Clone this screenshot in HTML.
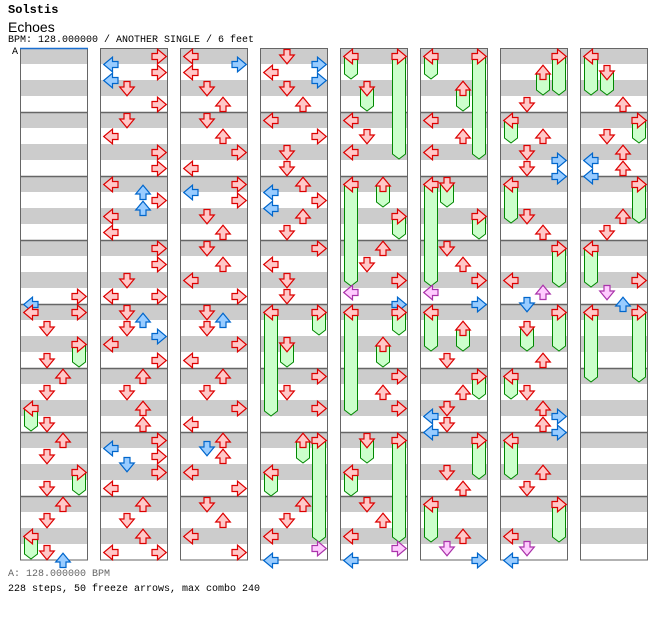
<!DOCTYPE html>
<html><head><meta charset="utf-8">
<style>
html,body{margin:0;padding:0;background:#fff;width:672px;height:620px;overflow:hidden}
.t{position:absolute;font-family:"Liberation Mono",monospace;white-space:pre;color:#000}
</style></head>
<body>
<div class="t" style="left:8px;top:3px;font-size:12px;font-weight:bold">Solstis</div>
<div class="t" style="left:8px;top:19px;font-family:'Liberation Sans',sans-serif;font-size:14px">Echoes</div>
<div class="t" style="left:8px;top:35px;font-size:10px">BPM: 128.000000 / ANOTHER SINGLE / 6 feet</div>
<div class="t" style="left:12px;top:47px;font-size:10px">A</div>
<div class="t" style="left:8px;top:569px;font-size:10px;color:#666">A: 128.000000 BPM</div>
<div class="t" style="left:8px;top:584px;font-size:10px">228 steps, 50 freeze arrows, max combo 240</div>
<svg id="s" width="672" height="620" style="position:absolute;left:0;top:0" xmlns="http://www.w3.org/2000/svg"></svg>
<script>
const L=0,D=1,U=2,R=3;
const cols=[
[[R,240,'q'],[L,248,'e'],[L,256,'q'],[R,256,'q'],[D,272,'q'],[R,288,'q',319],[D,304,'q'],[U,320,'q'],[D,336,'q'],[L,352,'q',383],[D,368,'q'],[U,384,'q'],[D,400,'q'],[R,416,'q',447],[D,432,'q'],[U,448,'q'],[D,464,'q'],[L,480,'q',511],[D,496,'q'],[U,504,'e']],
[[R,0,'q'],[L,8,'e'],[R,16,'q'],[L,24,'e'],[D,32,'q'],[R,48,'q'],[D,64,'q'],[L,80,'q'],[R,96,'q'],[R,112,'q'],[L,128,'q'],[U,136,'e'],[R,144,'q'],[U,152,'e'],[L,160,'q'],[L,176,'q'],[R,192,'q'],[R,208,'q'],[D,224,'q'],[L,240,'q'],[R,240,'q'],[D,256,'q'],[U,264,'e'],[D,272,'q'],[R,280,'e'],[L,288,'q'],[R,304,'q'],[U,320,'q'],[D,336,'q'],[U,352,'q'],[U,368,'q'],[R,384,'q'],[L,392,'e'],[R,400,'q'],[D,408,'e'],[R,416,'q'],[L,432,'q'],[U,448,'q'],[D,464,'q'],[U,480,'q'],[L,496,'q'],[R,496,'q']],
[[L,0,'q'],[R,8,'e'],[L,16,'q'],[D,32,'q'],[U,48,'q'],[D,64,'q'],[U,80,'q'],[R,96,'q'],[L,112,'q'],[R,128,'q'],[L,136,'e'],[R,144,'q'],[D,160,'q'],[U,176,'q'],[D,192,'q'],[U,208,'q'],[L,224,'q'],[R,240,'q'],[D,256,'q'],[U,264,'e'],[D,272,'q'],[R,288,'q'],[L,304,'q'],[U,320,'q'],[D,336,'q'],[R,352,'q'],[L,368,'q'],[U,384,'q'],[D,392,'e'],[U,400,'q'],[L,416,'q'],[R,432,'q'],[D,448,'q'],[U,464,'q'],[L,480,'q'],[R,496,'q']],
[[D,0,'q'],[R,8,'e'],[L,16,'q'],[R,24,'e'],[D,32,'q'],[U,48,'q'],[L,64,'q'],[R,80,'q'],[D,96,'q'],[D,112,'q'],[U,128,'q'],[L,136,'e'],[R,144,'q'],[L,152,'e'],[U,160,'q'],[D,176,'q'],[R,192,'q'],[L,208,'q'],[D,224,'q'],[D,240,'q'],[L,256,'q',368],[R,256,'q',287],[D,288,'q',319],[R,320,'q'],[D,336,'q'],[R,352,'q'],[U,384,'q',415],[R,384,'q',494],[L,416,'q',448],[U,448,'q'],[D,464,'q'],[L,480,'q'],[R,492,'s'],[L,504,'e']],
[[L,0,'q',31],[R,0,'q',111],[D,32,'q',63],[L,64,'q'],[D,80,'q'],[L,96,'q'],[L,128,'q',238],[U,128,'q',159],[R,160,'q',191],[U,192,'q'],[D,208,'q'],[R,224,'q'],[L,236,'s'],[R,248,'e'],[L,256,'q',367],[R,256,'q',287],[U,288,'q',319],[R,320,'q'],[U,336,'q'],[R,352,'q'],[D,384,'q',415],[R,384,'q',494],[L,416,'q',448],[D,448,'q'],[U,464,'q'],[L,480,'q'],[R,492,'s'],[L,504,'e']],
[[L,0,'q',31],[R,0,'q',111],[U,32,'q',63],[L,64,'q'],[U,80,'q'],[L,96,'q'],[L,128,'q',238],[D,128,'q',159],[R,160,'q',191],[D,192,'q'],[U,208,'q'],[R,224,'q'],[L,236,'s'],[R,248,'e'],[L,256,'q',303],[U,272,'q',303],[D,304,'q'],[R,320,'q',351],[U,336,'q'],[D,352,'q'],[L,360,'e'],[D,368,'q'],[L,376,'e'],[R,384,'q',431],[D,416,'q'],[U,432,'q'],[L,448,'q',494],[U,480,'q'],[D,492,'s'],[R,504,'e']],
[[R,0,'q',47],[U,16,'q',47],[D,48,'q'],[L,64,'q',95],[U,80,'q'],[D,96,'q'],[R,104,'e'],[D,112,'q'],[R,120,'e'],[L,128,'q',175],[D,160,'q'],[U,176,'q'],[R,192,'q',239],[L,224,'q'],[U,236,'s'],[D,248,'e'],[R,256,'q',303],[D,272,'q',303],[U,304,'q'],[L,320,'q',351],[D,336,'q'],[U,352,'q'],[R,360,'e'],[U,368,'q'],[R,376,'e'],[L,384,'q',431],[U,416,'q'],[D,432,'q'],[R,448,'q',494],[L,480,'q'],[D,492,'s'],[L,504,'e']],
[[L,0,'q',47],[D,16,'q',47],[U,48,'q'],[R,64,'q',95],[D,80,'q'],[U,96,'q'],[L,104,'e'],[U,112,'q'],[L,120,'e'],[R,128,'q',175],[U,160,'q'],[D,176,'q'],[L,192,'q',239],[R,224,'q'],[D,236,'s'],[U,248,'e'],[L,256,'q',334],[R,256,'q',334]]
];
const C={q:['#ffc8c8','#dd0000'],e:['#99ccff','#0066cc'],s:['#ffccff','#aa33aa']};
const rot=[90,0,180,-90];
let h='';
for(let c=0;c<8;c++){
  const x=20+80*c;
  h+=`<rect x="${x}" y="48" width="68" height="512" fill="#fff"/>`;
  for(let y=48;y<560;y+=32)h+=`<rect x="${x}" y="${y}" width="68" height="16" fill="#cccccc"/>`;
  for(let m=1;m<8;m++)h+=`<line x1="${x}" x2="${x+68}" y1="${48+64*m+0.5}" y2="${48+64*m+0.5}" stroke="#666" stroke-width="1.5"/>`;
  h+=`<rect x="${x+0.5}" y="48.5" width="67" height="511.5" fill="none" stroke="#666"/>`;
}
h+=`<line x1="20" x2="88" y1="48.5" y2="48.5" stroke="#1a6fd0" stroke-width="1.5"/>`;
let fr='',ar='';
cols.forEach((notes,c)=>{
  const x0=20+80*c;
  notes.forEach(n=>{
    const lx=x0+3+16*n[0], ty=49+n[1];
    if(n[3]!==undefined){
      const top=ty+8, bot=48+n[3];
      fr+=`<path d="M${lx+1.5},${top} H${lx+14.5} V${bot-5} L${lx+8},${bot} L${lx+1.5},${bot-5} Z" fill="#ccffcc" stroke="#008800" stroke-width="1"/>`;
    }
    const [f,s]=C[n[2]];
    ar+=`<g transform="translate(${lx+8},${ty+7.5}) rotate(${rot[n[0]]})"><path d="M-3,-7 H3 V-1.5 H7.3 L0,7.3 L-7.3,-1.5 H-3 Z" fill="${f}" stroke="${s}" stroke-width="1.2" stroke-linejoin="miter"/></g>`;
  });
});
document.getElementById('s').innerHTML=h+fr+ar;
</script>
</body></html>
